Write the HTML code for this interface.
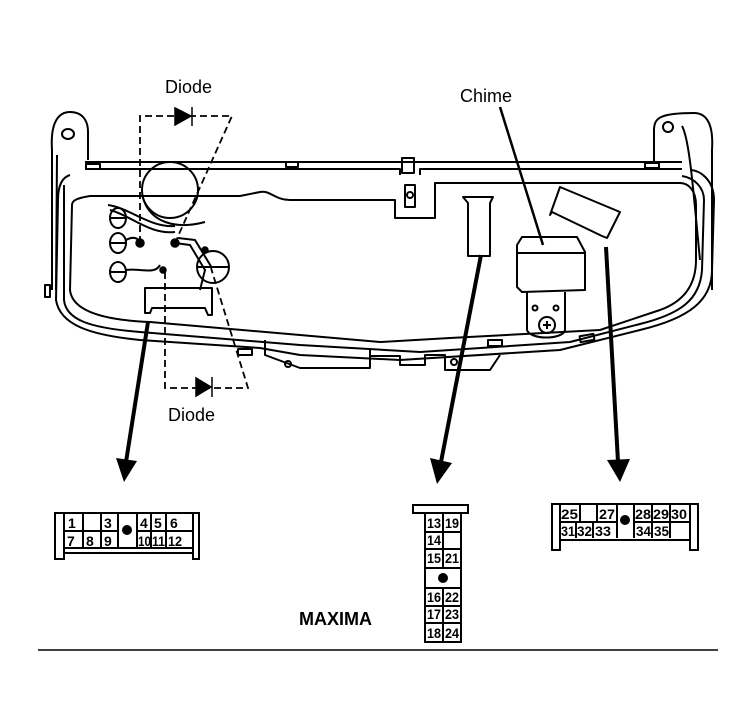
<!DOCTYPE html>
<html><head><style>
html,body{margin:0;padding:0;background:#fff;}
svg{display:block;}
text{font-family:"Liberation Sans",sans-serif;fill:#000;}
.n{font-size:14px;font-weight:bold;font-family:"Liberation Sans Narrow","Liberation Sans",sans-serif;}
</style></head><body>
<svg width="756" height="726" viewBox="0 0 756 726" xmlns="http://www.w3.org/2000/svg">
<g fill="none" stroke="#000" stroke-width="2" stroke-linejoin="round">
<path d="M52,290 L52,150 C50,120 60,112 70,112 C82,112 88,120 88,132 L88,160"/>
<ellipse cx="68" cy="134" rx="6" ry="5"/>
<path d="M56,290 L57,155"/>
<path d="M712,290 L712,150 C714,120 704,113 694,113 C660,113 654,118 654,130 L654,162"/>
<path d="M682,126 C690,140 694,200 700,260"/>
<ellipse cx="668" cy="127" rx="5" ry="5"/>
<path d="M85,162 L682,162"/>
<path d="M85,169 L400,169 L400,175 M420,175 L420,169 L682,169"/>
<rect x="86" y="164" width="14" height="5"/>
<rect x="645" y="163" width="14" height="5"/>
<rect x="286" y="162" width="12" height="5"/>
<rect x="402" y="158" width="12" height="15"/>
<path d="M70,175 C60,178 58,190 58,200 L56,300 C60,325 90,335 140,340 L260,348 L300,355 L400,360 L560,350 L640,330 C690,318 712,300 712,270 L714,200 C714,180 700,170 690,170"/>
<path d="M64,185 L64,300 C66,320 90,328 140,332 L300,345 L420,352 L570,342 L640,324 C680,314 700,300 702,270 L704,200 C704,188 695,178 682,176"/>
<path d="M72,205 L70,290 C72,310 100,320 150,322 L300,335 L380,342 L450,338 L600,330 L660,310 C688,300 696,280 696,260 L696,205 C696,190 688,183 680,183 L435,183 L435,218 L395,218 L395,200 L290,200 C275,200 270,190 260,192 L240,196 L200,196 L175,196 L90,196 C78,198 72,200 72,205 Z"/>
<path d="M265,340 L265,355 L300,368 L370,368 L370,350 M370,356 L400,356 L400,365 L425,365 L425,355 L445,355 L445,370 L490,370 L500,355"/>
<rect x="238" y="349" width="14" height="6"/>
<rect x="488" y="340" width="14" height="6"/>
<rect x="580" y="335" width="14" height="6" transform="rotate(-10 587 338)"/>
<circle cx="288" cy="364" r="3"/>
<circle cx="454" cy="362" r="3"/>
<rect x="405" y="185" width="10" height="22"/>
<circle cx="410" cy="195" r="3"/>
<rect x="45" y="285" width="5" height="12"/>
<circle cx="170" cy="190" r="28"/>
<path d="M143,198 C150,222 175,230 205,222"/>
<path d="M110,210 C130,215 150,235 175,232 M108,205 C130,208 150,228 175,226"/>
<circle cx="213" cy="267" r="16"/>
<path d="M197,267 L229,267"/>
<ellipse cx="118" cy="218" rx="8" ry="10"/><path d="M110,218 L126,218"/>
<ellipse cx="118" cy="243" rx="8" ry="10"/><path d="M110,243 L126,243 M126,240 C133,236 138,238 140,242"/>
<ellipse cx="118" cy="272" rx="8" ry="10"/><path d="M110,272 L126,272 M126,270 C140,268 155,275 160,265"/>
<path d="M175,243 L190,245 L205,270 L200,290 M178,238 L195,240 L212,268"/>
<path d="M145,288 L145,313 L150,313 L152,308 L205,308 L208,315 L212,315 L212,288 Z"/>
<path d="M463,197 L493,197 L490,203 L490,256 L468,256 L468,203 Z"/>
<path d="M560,187 L620,212 L607,238 L602,236 L552,212 L550,215 Z"/>
<path d="M522,237 L577,237 L585,252 L585,290 L522,292 L517,287 L517,245 Z"/>
<path d="M517,253 L585,253"/>
<path d="M527,292 L527,330 C530,340 563,340 565,330 L565,292"/>
<circle cx="547" cy="325" r="8"/>
<path d="M543,325 L551,325 M547,321 L547,329"/>
<circle cx="535" cy="308" r="2.5"/><circle cx="556" cy="308" r="2.5"/>
</g>
<g fill="none" stroke="#000" stroke-width="1.8" stroke-dasharray="7,4">
<path d="M140,243 L140,116 L232,116 L175,243"/>
<path d="M165,272 L165,388 L248,388 L211,268"/>
</g>
<g fill="#000" stroke="#000" stroke-width="1.5">
<path d="M175,108 L175,125 L191,116 Z"/><path d="M192,107 L192,126"/>
<path d="M196,378 L196,396 L211,387 Z"/><path d="M212,377 L212,397"/>
<circle cx="140" cy="243" r="4"/><circle cx="175" cy="243" r="4"/><circle cx="163" cy="270" r="3"/><circle cx="205" cy="250" r="3"/>
</g>
<g stroke="#000" stroke-width="4" fill="none">
<path d="M148,322 L126,462"/>
<path d="M481,255 L441,462"/>
<path d="M606,247 L618,462"/>
</g>
<path d="M500,107 L543,245" stroke="#000" stroke-width="2.5"/>
<g fill="#000">
<path d="M116,458 L137,461 L124,482 Z"/>
<path d="M430,458 L452,463 L437,484 Z"/>
<path d="M607,460 L630,459 L620,482 Z"/>
</g>
<text x="165" y="93" font-size="18">Diode</text>
<text x="168" y="421" font-size="18">Diode</text>
<text x="460" y="102" font-size="18">Chime</text>
<text x="299" y="625" font-size="18" font-weight="bold">MAXIMA</text>
<line x1="38" y1="650" x2="718" y2="650" stroke="#000" stroke-width="1.5"/>
<g fill="none" stroke="#000" stroke-width="2">
<rect x="55" y="513" width="9" height="46"/>
<rect x="193" y="513" width="6" height="46"/>
<rect x="64" y="513" width="129" height="40"/>
<path d="M64,531 L118,531 M137,531 L193,531 M83,514 L83,548 M101,514 L101,548 M118,514 L118,548 M137,514 L137,548 M151,514 L151,548 M166,514 L166,548 M64,548 L193,548"/>
</g>
<circle cx="127" cy="530" r="5" fill="#000"/>
<g class="n">
<text x="68" y="528">1</text><text x="104" y="528">3</text><text x="140" y="528">4</text><text x="154" y="528">5</text><text x="170" y="528">6</text>
<text x="67" y="546">7</text><text x="86" y="546">8</text><text x="104" y="546">9</text><text x="138" y="546" textLength="13" lengthAdjust="spacingAndGlyphs">10</text><text x="152" y="546" textLength="13" lengthAdjust="spacingAndGlyphs">11</text><text x="168" y="546" textLength="14" lengthAdjust="spacingAndGlyphs">12</text>
</g>
<g fill="none" stroke="#000" stroke-width="2">
<rect x="413" y="505" width="55" height="8"/>
<rect x="425" y="513" width="36" height="129"/>
<path d="M425,532 L461,532 M425,549 L461,549 M425,568 L461,568 M425,588 L461,588 M425,606 L461,606 M425,623 L461,623 M443,513 L443,532 M443,549 L443,568 M443,588 L443,642 M443,532 L443,549"/>
</g>
<circle cx="443" cy="578" r="5" fill="#000"/>
<g class="n">
<text x="427" y="528" textLength="14" lengthAdjust="spacingAndGlyphs">13</text><text x="445" y="528" textLength="14" lengthAdjust="spacingAndGlyphs">19</text>
<text x="427" y="545" textLength="14" lengthAdjust="spacingAndGlyphs">14</text>
<text x="427" y="563" textLength="14" lengthAdjust="spacingAndGlyphs">15</text><text x="445" y="563" textLength="14" lengthAdjust="spacingAndGlyphs">21</text>
<text x="427" y="602" textLength="14" lengthAdjust="spacingAndGlyphs">16</text><text x="445" y="602" textLength="14" lengthAdjust="spacingAndGlyphs">22</text>
<text x="427" y="619" textLength="14" lengthAdjust="spacingAndGlyphs">17</text><text x="445" y="619" textLength="14" lengthAdjust="spacingAndGlyphs">23</text>
<text x="427" y="638" textLength="14" lengthAdjust="spacingAndGlyphs">18</text><text x="445" y="638" textLength="14" lengthAdjust="spacingAndGlyphs">24</text>
</g>
<g fill="none" stroke="#000" stroke-width="2">
<rect x="552" y="504" width="8" height="46"/>
<rect x="690" y="504" width="8" height="46"/>
<rect x="560" y="504" width="130" height="36"/>
<path d="M560,522 L617,522 M634,522 L690,522 M580,505 L580,522 M597,505 L597,522 M576,522 L576,538 M593,522 L593,538 M617,505 L617,538 M634,505 L634,538 M652,505 L652,538 M670,505 L670,538"/>
</g>
<circle cx="625" cy="520" r="5" fill="#000"/>
<g class="n">
<text x="561" y="519" textLength="17" lengthAdjust="spacingAndGlyphs">25</text><text x="599" y="519" textLength="16" lengthAdjust="spacingAndGlyphs">27</text>
<text x="635" y="519" textLength="16" lengthAdjust="spacingAndGlyphs">28</text><text x="653" y="519" textLength="16" lengthAdjust="spacingAndGlyphs">29</text><text x="671" y="519" textLength="16" lengthAdjust="spacingAndGlyphs">30</text>
<text x="561" y="536" textLength="14" lengthAdjust="spacingAndGlyphs">31</text><text x="577" y="536" textLength="15" lengthAdjust="spacingAndGlyphs">32</text><text x="595" y="536" textLength="16" lengthAdjust="spacingAndGlyphs">33</text>
<text x="636" y="536" textLength="15" lengthAdjust="spacingAndGlyphs">34</text><text x="654" y="536" textLength="15" lengthAdjust="spacingAndGlyphs">35</text>
</g>
</svg>
</body></html>
